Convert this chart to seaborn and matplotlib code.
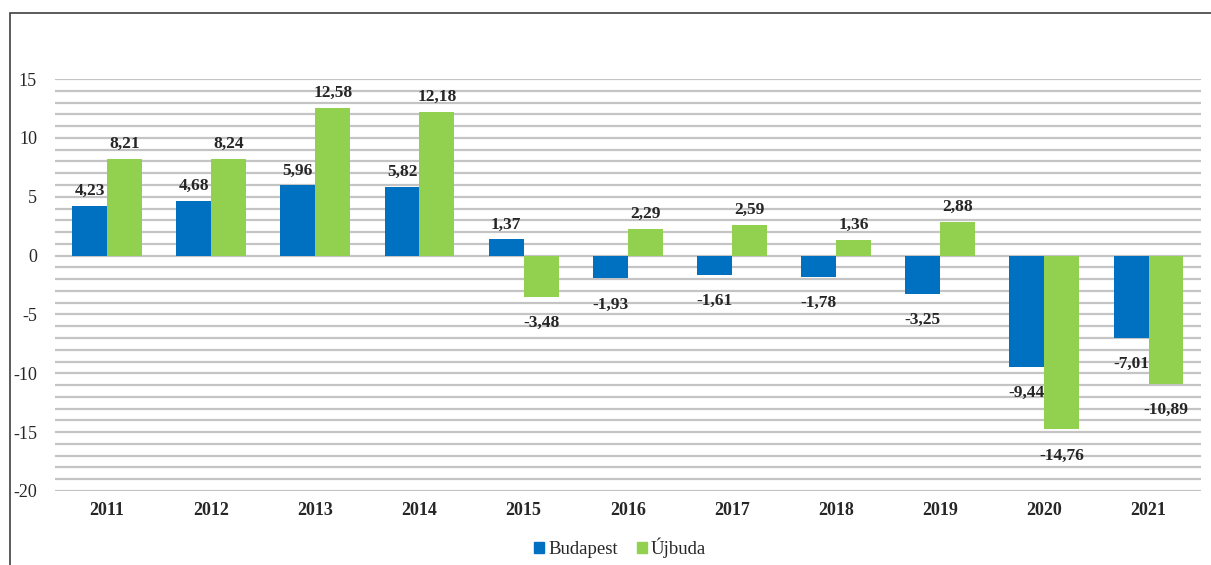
import matplotlib.pyplot as plt
import matplotlib.patches as mpatches
from matplotlib.ticker import MultipleLocator
import pandas as pd
import seaborn as sns

years = ["2011", "2012", "2013", "2014", "2015", "2016", "2017", "2018", "2019", "2020", "2021"]
budapest = [4.23, 4.68, 5.96, 5.82, 1.37, -1.93, -1.61, -1.78, -3.25, -9.44, -7.01]
ujbuda = [8.21, 8.24, 12.58, 12.18, -3.48, 2.29, 2.59, 1.36, 2.88, -14.76, -10.89]
series = ["Budapest", "Újbuda"]
colors = ["#0070C0", "#92D050"]

df = pd.DataFrame({
    "year": years * 2,
    "value": budapest + ujbuda,
    "series": [series[0]] * len(years) + [series[1]] * len(years),
})

sns.set_style("white")
plt.rcParams["font.family"] = ["Liberation Serif", "DejaVu Serif"]
plt.rcParams["axes.unicode_minus"] = False

fig = plt.figure(figsize=(12.11, 5.65), dpi=100)
ax = fig.add_axes([0.0454, 0.131, 0.946, 0.729])

sns.barplot(data=df, x="year", y="value", hue="series", palette=colors,
            width=0.67, gap=0, ax=ax, legend=False, saturation=1, linewidth=0)

ax.set_ylim(-20, 15)
ax.set_xlim(-0.5, 10.5)
ax.yaxis.set_major_locator(MultipleLocator(5))
ax.yaxis.set_minor_locator(MultipleLocator(1))
ax.grid(True, axis="y", which="both", color="#c4c4c4", linewidth=1.6)
ax.set_axisbelow(True)
for s in ax.spines.values():
    s.set_visible(False)
ax.set_xlabel("")
ax.set_ylabel("")
ax.tick_params(axis="y", which="both", length=0, labelsize=13, pad=13)
ax.tick_params(axis="x", length=0, labelsize=13, pad=8)
for lbl in ax.get_xticklabels():
    lbl.set_fontweight("bold")

for cont, vals in zip(ax.containers, [budapest, ujbuda]):
    pos = [f"{v:.2f}".replace(".", ",") if v >= 0 else "" for v in vals]
    neg = [f"{v:.2f}".replace(".", ",") if v < 0 else "" for v in vals]
    ax.bar_label(cont, labels=pos, padding=5, fontsize=12.5, fontweight="bold")
    ax.bar_label(cont, labels=neg, padding=13, fontsize=12.5, fontweight="bold")

handles = [mpatches.Patch(color=c, label=s) for c, s in zip(colors, series)]
fig.legend(handles=handles, loc="center", bbox_to_anchor=(0.512, 0.03), ncol=2,
           frameon=False, fontsize=13.5, handlelength=0.55, handleheight=0.55,
           handletextpad=0.2, columnspacing=1.0)

# outer chart frame (top and left edges visible)
fig.add_artist(mpatches.Rectangle((10 / 1211, -0.1), 1.2, 0.1 + (565 - 13) / 565,
                                  transform=fig.transFigure, fill=False,
                                  edgecolor="#404040", linewidth=1.2))

fig.savefig("out.png", dpi=100)
